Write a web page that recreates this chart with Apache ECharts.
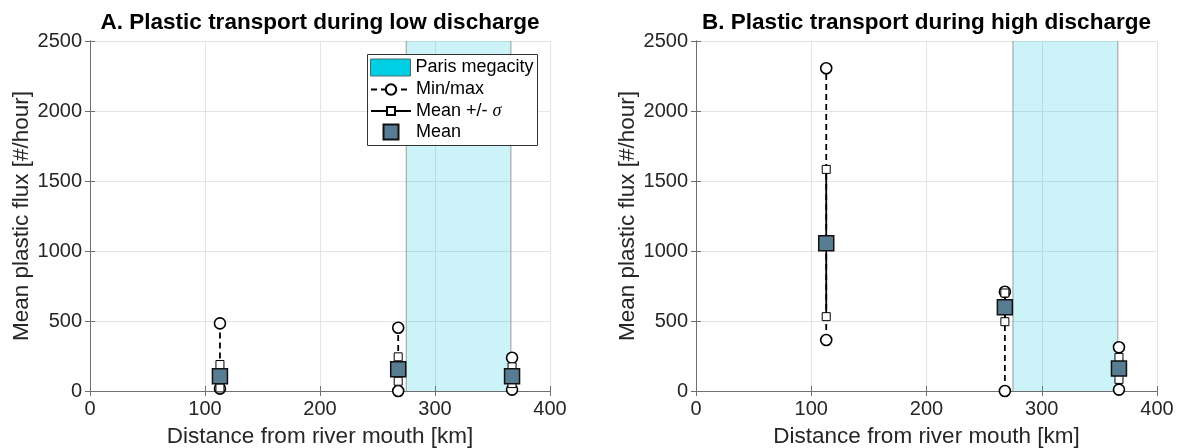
<!DOCTYPE html>
<html><head><meta charset="utf-8">
<script src="https://cdn.jsdelivr.net/npm/echarts@6/dist/echarts.min.js"></script>
<style>html,body{margin:0;padding:0;background:#fff}#c{width:1178px;height:448px}</style>
</head><body><div id="c"></div>
<script>
// ---- data ----
const distances = [113, 268, 367];            // km from river mouth
const lowMin = [17, 0, 10];
const lowMinusSd = [22, 70, 53];
const lowMean = [105, 155, 105];
const lowPlusSd = [189, 244, 172];
const lowMax = [483, 452, 237];
const highMin = [364, 0, 10];
const highMinusSd = [531, 495, 83];
const highMean = [1055, 598, 160];
const highPlusSd = [1583, 700, 240];
const highMax = [2305, 709, 312];
const parisBand = [275, 366];                 // km range of Paris megacity
const xTicks = [0, 100, 200, 300, 400];
const yTicks = [0, 500, 1000, 1500, 2000, 2500];
const panelTitles = ['A. Plastic transport during low discharge', 'B. Plastic transport during high discharge'];
const legendNames = ['Paris megacity', 'Min/max', 'Mean +/- σ', 'Mean'];

// ---- styling ----
const FONT = '"Liberation Sans", Arial, Helvetica, sans-serif';
const TXT = '#262626';
const AX = '#707070';
const GRIDC = '#e4e4e4';
const grids = [
  {left: 90, top: 41, width: 460, height: 350, outerBoundsMode: 'none', containLabel: false},
  {left: 696, top: 41, width: 461, height: 350, outerBoundsMode: 'none', containLabel: false}
];
const xMin = xTicks[0], xMax = xTicks[xTicks.length - 1], xInt = xTicks[1] - xTicks[0];
const yMin = yTicks[0], yMax = yTicks[yTicks.length - 1], yInt = yTicks[1] - yTicks[0];

const xAxes = [], yAxes = [];
grids.forEach((g, i) => {
  xAxes.push({
    type: 'value', gridIndex: i, min: xMin, max: xMax, interval: xInt, position: 'bottom',
    name: 'Distance from river mouth [km]', nameLocation: 'middle', nameGap: 34,
    nameTextStyle: {fontSize: 22.5, color: TXT, fontFamily: FONT},
    axisLine: {show: true, lineStyle: {color: AX, width: 1}},
    axisTick: {show: true, inside: true, length: 5, lineStyle: {color: AX}},
    axisLabel: {fontSize: 20, color: TXT, fontFamily: FONT, margin: 8, formatter: v => String(v)},
    splitLine: {show: true, lineStyle: {color: GRIDC, width: 1}}
  });
  xAxes.push({
    type: 'value', gridIndex: i, min: xMin, max: xMax, interval: xInt, position: 'top',
    axisLine: {show: true, lineStyle: {color: AX, width: 1}},
    axisTick: {show: true, inside: true, length: 5, lineStyle: {color: AX}},
    axisLabel: {show: false}, splitLine: {show: false}
  });
  yAxes.push({
    type: 'value', gridIndex: i, min: yMin, max: yMax, interval: yInt, position: 'left',
    name: 'Mean plastic flux [#/hour]', nameLocation: 'middle', nameGap: 56,
    nameTextStyle: {fontSize: 22.5, color: TXT, fontFamily: FONT},
    axisLine: {show: true, lineStyle: {color: AX, width: 1}},
    axisTick: {show: true, inside: true, length: 5, lineStyle: {color: AX}},
    axisLabel: {fontSize: 20, color: TXT, fontFamily: FONT, margin: 8, formatter: v => String(v)},
    splitLine: {show: true, lineStyle: {color: GRIDC, width: 1}}
  });
  yAxes.push({
    type: 'value', gridIndex: i, min: yMin, max: yMax, interval: yInt, position: 'right',
    axisLine: {show: true, lineStyle: {color: AX, width: 1}},
    axisTick: {show: true, inside: true, length: 5, lineStyle: {color: AX}},
    axisLabel: {show: false}, splitLine: {show: false}
  });
});

const series = [];
function addPanel(p, mins, minus, means, plus, maxs) {
  const xi = p * 2, yi = p * 2;
  series.push({
    type: 'custom', name: legendNames[0], xAxisIndex: xi, yAxisIndex: yi, z: 1, silent: true,
    data: [parisBand], encode: {x: [0, 1]},
    itemStyle: {color: '#00cfe3'},
    renderItem: (params, api) => {
      const a = api.coord([api.value(0), yMax]);
      const b = api.coord([api.value(1), yMin]);
      return {type: 'group', children: [
        {type: 'rect', shape: {x: a[0], y: a[1], width: b[0] - a[0], height: b[1] - a[1]},
         style: {fill: 'rgba(0,200,222,0.2)'}},
        {type: 'line', shape: {x1: a[0], y1: a[1], x2: a[0], y2: b[1]}, style: {stroke: '#9a9a9a', lineWidth: 1}},
        {type: 'line', shape: {x1: b[0], y1: a[1], x2: b[0], y2: b[1]}, style: {stroke: '#9a9a9a', lineWidth: 1}}
      ]};
    }
  });
  distances.forEach((d, i) => {
    series.push({
      type: 'line', name: legendNames[1], xAxisIndex: xi, yAxisIndex: yi, z: 2, clip: false, silent: true,
      data: [[d, mins[i]], [d, maxs[i]]],
      symbol: 'circle', symbolSize: 11, showSymbol: true,
      itemStyle: {color: '#fff', borderColor: '#000', borderWidth: 1.6},
      lineStyle: {color: '#000', width: 1.8, type: [6, 4]}
    });
  });
  distances.forEach((d, i) => {
    series.push({
      type: 'line', name: legendNames[2], xAxisIndex: xi, yAxisIndex: yi, z: 3, clip: false, silent: true,
      data: [[d, minus[i]], [d, plus[i]]],
      symbol: 'rect', symbolSize: 8, showSymbol: true,
      itemStyle: {color: '#fff', borderColor: '#000', borderWidth: 1},
      lineStyle: {color: '#000', width: 1.8, type: 'solid'}
    });
  });
  series.push({
    type: 'scatter', name: legendNames[3], xAxisIndex: xi, yAxisIndex: yi, z: 4, clip: false, silent: true,
    data: distances.map((d, i) => [d, means[i]]),
    symbol: 'rect', symbolSize: 15,
    itemStyle: {color: '#587d92', borderColor: '#111', borderWidth: 1.5, opacity: 1}
  });
}
addPanel(0, lowMin, lowMinusSd, lowMean, lowPlusSd, lowMax);
addPanel(1, highMin, highMinusSd, highMean, highPlusSd, highMax);

const legendRows = [
  {name: legendNames[0], center: 67.5, h: 17, w: 40, left: 370, pad: 0, icon: 'rect', itemStyle: {color: '#00cfe3', borderColor: '#4a6a70', borderWidth: 1}},
  {name: legendNames[1], center: 89.5, h: 13, w: 40, left: 370, pad: 0},
  {name: legendNames[2], center: 111, h: 10, w: 40, left: 370, pad: 0},
  {name: legendNames[3], center: 132, h: 15, w: 15, left: 382.5, pad: 12.5}
];
const legends = legendRows.map(r => ({
  show: true, left: r.left, top: r.center - 10, padding: 0, z: 10,
  orient: 'vertical', selectedMode: false,
  itemWidth: r.w, itemHeight: r.h, itemGap: 0,
  data: [Object.assign({name: r.name}, r.icon ? {icon: r.icon} : {}, r.itemStyle ? {itemStyle: r.itemStyle} : {})],
  formatter: n => n.replace('σ', '{i|σ}'),
  textStyle: {fontSize: 18, color: '#000', fontFamily: FONT, lineHeight: 20, padding: [0, 0, 0, r.pad],
    rich: {i: {fontSize: 18, fontStyle: 'italic', fontFamily: '"Liberation Serif", serif', color: '#000', lineHeight: 20}}}
}));

const option = {
  animation: false,
  backgroundColor: '#fff',
  title: panelTitles.map((t, i) => ({
    text: t, left: grids[i].left + grids[i].width / 2, textAlign: 'center', top: 11, padding: 0,
    textStyle: {fontSize: 22.5, fontWeight: 'bold', color: '#000', fontFamily: FONT}
  })),
  grid: grids,
  xAxis: xAxes,
  yAxis: yAxes,
  legend: legends,
  graphic: [{type: 'rect', left: 367, top: 54, z: 5, silent: true,
    shape: {width: 170, height: 91}, style: {fill: '#fff', stroke: '#333', lineWidth: 1}}],
  series: series
};
const chart = echarts.init(document.getElementById('c'), null, {renderer: 'canvas'});
chart.setOption(option);
</script></body></html>
